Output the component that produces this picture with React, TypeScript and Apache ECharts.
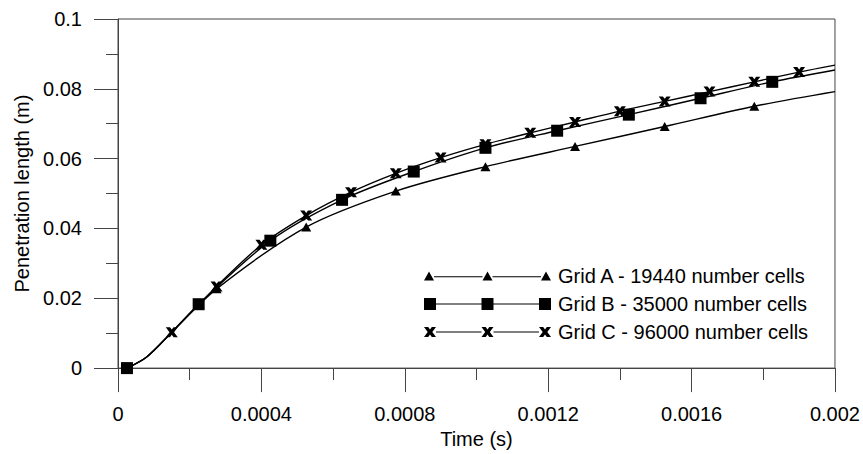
import React, { useEffect, useRef } from "react";
import * as echarts from "echarts";

// ---- data ----
const gridATime = [0.000025, 0.00008, 0.00015, 0.000275, 0.000525, 0.000775, 0.001025, 0.001275, 0.001525, 0.001775, 0.002];
const gridAValue = [0, 0.0032, 0.0103, 0.0227, 0.0404, 0.0507, 0.0577, 0.0635, 0.0692, 0.075, 0.0792];
const gridAMarker = [0, 0, 0, 1, 1, 1, 1, 1, 1, 1, 0];

const gridBTime = [0.000025, 0.00008, 0.00015, 0.000225, 0.000425, 0.000625, 0.000825, 0.001025, 0.001225, 0.001425, 0.001625, 0.001825, 0.002];
const gridBValue = [0, 0.0032, 0.0103, 0.0183, 0.0365, 0.0482, 0.0563, 0.0631, 0.068, 0.0726, 0.0773, 0.082, 0.0854];
const gridBMarker = [1, 0, 0, 1, 1, 1, 1, 1, 1, 1, 1, 1, 0];

const gridCTime = [0.000025, 0.00008, 0.00015, 0.000275, 0.0004, 0.000525, 0.00065, 0.000775, 0.0009, 0.001025, 0.00115, 0.001275, 0.0014, 0.001525, 0.00165, 0.001775, 0.0019, 0.002];
const gridCValue = [0, 0.0032, 0.0103, 0.0234, 0.0353, 0.0437, 0.0504, 0.0558, 0.0603, 0.0641, 0.0674, 0.0705, 0.0736, 0.0764, 0.0792, 0.082, 0.0848, 0.0868];
const gridCMarker = [0, 0, 1, 1, 1, 1, 1, 1, 1, 1, 1, 1, 1, 1, 1, 1, 1, 0];

const seriesNames = ["Grid A - 19440 number cells", "Grid B - 35000 number cells", "Grid C - 96000 number cells"];
const xTickLabels = ["0", "0.0004", "0.0008", "0.0012", "0.0016", "0.002"];
const yTickLabels = ["0", "0.02", "0.04", "0.06", "0.08", "0.1"];

const FONT = "'Liberation Sans', Arial, Helvetica, sans-serif";
const AXIS = "#444";

const X_PTS = [[0,0],[4.2,0],[6,2.4],[7.8,0],[12,0],[8.3,5],[12,10],[7.8,10],[6,7.6],[4.2,10],[0,10],[3.7,5]];
const X_SYMBOL = "path://M" + X_PTS.map(([a, b]) => `${a},${b}`).join(" L") + " Z";

// legend icons: marker - line - marker - line - marker
function legendIcon(kind: string): string {
  const W = 127;
  const H = kind === "tri" ? 9 : kind === "sq" ? 12 : 10;
  const mw = kind === "tri" ? 10 : 12;
  const lefts = [0, (W - mw) / 2, W - mw];
  let d = "";
  lefts.forEach((l) => {
    if (kind === "tri") d += `M${l},${H} L${l + mw / 2},0 L${l + mw},${H} Z `;
    else if (kind === "sq") d += `M${l},0 L${l + mw},0 L${l + mw},${H} L${l},${H} Z `;
    else d += "M" + X_PTS.map(([a, b]) => `${l + a},${b}`).join(" L") + " Z ";
  });
  const ly = kind === "tri" ? 5.2 : H / 2;
  for (let i = 0; i < 2; i++) {
    const a = lefts[i] + mw;
    const b = lefts[i + 1];
    d += `M${a},${ly - 0.5} L${b},${ly - 0.5} L${b},${ly + 0.5} L${a},${ly + 0.5} Z `;
  }
  return "path://" + d.trim();
}

function buildData(times: number[], values: number[], marks: number[], symbol: string) {
  return times.map((t, i) => ({ value: [t, values[i]], symbol: marks[i] ? symbol : "none" }));
}

export default function App() {
  const ref = useRef<HTMLDivElement>(null);
  useEffect(() => {
    if (!ref.current) return;
    const chart = echarts.init(ref.current, undefined, { renderer: "svg" });
    const mkSeries = (name: string, data: any[], size: any, z: number) => ({
      name,
      type: "line",
      data,
      smooth: 0.3,
      showSymbol: true,
      showAllSymbol: true,
      symbolSize: size,
      z,
      lineStyle: { color: "#000", width: 1.4 },
      itemStyle: { color: "#000" },
      emphasis: { disabled: true },
    });
    chart.setOption({
      animation: false,
      backgroundColor: "#fff",
      textStyle: { fontFamily: FONT },
      grid: { left: 118, right: 25, top: 19, bottom: 78, show: true, borderColor: AXIS, borderWidth: 1 },
      legend: {
        orient: "vertical",
        left: 419,
        top: 261,
        itemWidth: 127,
        itemHeight: 12,
        itemGap: 8,
        selectedMode: false,
        textStyle: { fontSize: 20, color: "#000", fontFamily: FONT, padding: [0, 0, 0, 2] },
        data: [
          { name: seriesNames[0], icon: legendIcon("tri") },
          { name: seriesNames[1], icon: legendIcon("sq") },
          { name: seriesNames[2], icon: legendIcon("x") },
        ],
      },
      xAxis: {
        type: "value",
        min: 0,
        max: 0.002,
        interval: 0.0004,
        name: "Time (s)",
        nameLocation: "middle",
        nameGap: 56,
        nameTextStyle: { fontSize: 20, color: "#000", fontFamily: FONT },
        axisLine: { show: true, lineStyle: { color: AXIS, width: 1 } },
        axisTick: { show: true, length: 24, lineStyle: { color: AXIS } },
        minorTick: { show: true, splitNumber: 2, length: 12, lineStyle: { color: AXIS } },
        splitLine: { show: false },
        axisLabel: {
          fontSize: 20,
          color: "#000",
          margin: 36,
          fontFamily: FONT,
          formatter: (v: number) => xTickLabels[Math.round(v / 0.0004)] ?? String(v),
        },
      },
      yAxis: {
        type: "value",
        min: 0,
        max: 0.1,
        interval: 0.02,
        name: "Penetration length (m)",
        nameLocation: "middle",
        nameGap: 85,
        nameTextStyle: { fontSize: 20, color: "#000", fontFamily: FONT },
        axisLine: { show: true, lineStyle: { color: AXIS, width: 1 } },
        axisTick: { show: true, length: 24, lineStyle: { color: AXIS } },
        minorTick: { show: true, splitNumber: 2, length: 12, lineStyle: { color: AXIS } },
        splitLine: { show: false },
        axisLabel: {
          fontSize: 20,
          color: "#000",
          margin: 36,
          fontFamily: FONT,
          formatter: (v: number) => yTickLabels[Math.round(v / 0.02)] ?? String(v),
        },
      },
      series: [
        mkSeries(seriesNames[0], buildData(gridATime, gridAValue, gridAMarker, "triangle"), [10, 9], 2),
        mkSeries(seriesNames[1], buildData(gridBTime, gridBValue, gridBMarker, "rect"), 12, 3),
        mkSeries(seriesNames[2], buildData(gridCTime, gridCValue, gridCMarker, X_SYMBOL), [12, 10], 4),
      ],
    });
    return () => chart.dispose();
  }, []);
  return <div ref={ref} style={{ position: "absolute", left: 0, top: 0, width: 863, height: 454 }} />;
}
